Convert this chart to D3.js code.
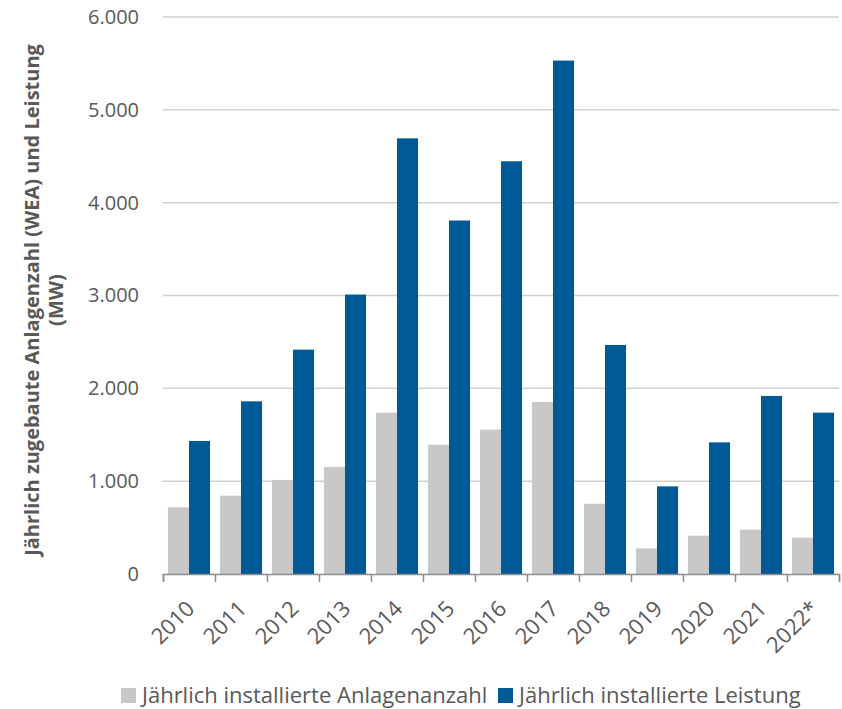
<!DOCTYPE html>
<html>
<head>
<meta charset="utf-8">
<script src="https://cdn.jsdelivr.net/npm/d3@7"></script>
<style>
  body { margin: 0; background: #fff; }
  text { font-family: "Open Sans", "Noto Sans", sans-serif; fill: #595959; }
</style>
</head>
<body>
<svg id="chart" width="842" height="709"></svg>
<script>
// Jahre / Kategorien
var years = ["2010", "2011", "2012", "2013", "2014", "2015", "2016", "2017", "2018", "2019", "2020", "2021", "2022*"];
// Jährlich installierte Anlagenanzahl (WEA)
var anlagen = [718, 844, 1013, 1153, 1738, 1393, 1555, 1853, 757, 276, 413, 477, 391];
// Jährlich installierte Leistung (MW)
var leistung = [1433, 1860, 2417, 3010, 4693, 3808, 4446, 5531, 2467, 944, 1418, 1918, 1738];
var yTicks = [0, 1000, 2000, 3000, 4000, 5000, 6000];
var seriesNames = ["Jährlich installierte Anlagenanzahl", "Jährlich installierte Leistung"];
var colors = ["#c8c8c8", "#005a96"];

var svg = d3.select("#chart"),
    margin = {top: 17, right: 3, bottom: 135, left: 163},
    width = +svg.attr("width") - margin.left - margin.right,
    height = +svg.attr("height") - margin.top - margin.bottom;

var g = svg.append("g").attr("transform", "translate(" + margin.left + "," + margin.top + ")");

var x0 = d3.scaleBand().domain(years).range([0, width]).paddingInner(0.19).paddingOuter(0.095);
var x1 = d3.scaleBand().domain([0, 1]).range([0, x0.bandwidth()]);
var y = d3.scaleLinear().domain([0, 6000]).range([height, 0]);

var fmt = function(d) { return d3.format(",")(d).replace(/,/g, "."); };

// gridlines
g.append("g")
    .selectAll("line")
    .data(yTicks.slice(1))
    .enter().append("line")
      .attr("x1", 0)
      .attr("x2", width)
      .attr("y1", function(d) { return y(d); })
      .attr("y2", function(d) { return y(d); })
      .attr("stroke", "#d0d0d0")
      .attr("stroke-width", 1.5);

// y axis labels
var yAxis = g.append("g")
    .call(d3.axisLeft(y).tickValues(yTicks).tickFormat(fmt).tickSize(0).tickPadding(24));
yAxis.select(".domain").remove();
yAxis.selectAll("text")
    .attr("font-size", "20px")
    .attr("fill", "#595959")
    .style("font-family", "'Open Sans', sans-serif");

// bars
var series = [anlagen, leistung];
var groups = g.append("g")
  .selectAll("g")
  .data(years)
  .enter().append("g")
    .attr("transform", function(d) { return "translate(" + x0(d) + ",0)"; });

groups.selectAll("rect")
  .data(function(d, i) { return series.map(function(s, k) { return {k: k, v: s[i]}; }); })
  .enter().append("rect")
    .attr("x", function(d) { return x1(d.k); })
    .attr("width", x1.bandwidth())
    .attr("y", function(d) { return y(d.v); })
    .attr("height", function(d) { return height - y(d.v); })
    .attr("fill", function(d) { return colors[d.k]; });

// x axis
var xAxis = d3.axisBottom(d3.scaleLinear().domain([0, years.length]).range([0, width]))
    .tickValues(d3.range(years.length + 1))
    .tickSize(8)
    .tickFormat("");
var xa = g.append("g")
    .attr("transform", "translate(0," + height + ")")
    .call(xAxis);
xa.select(".domain").attr("stroke", "#8c8c8c").attr("stroke-width", 1.5);
xa.selectAll(".tick line").attr("stroke", "#8c8c8c").attr("stroke-width", 1.5);

g.append("g")
  .selectAll("text")
  .data(years)
  .enter().append("text")
    .attr("transform", function(d) {
      return "translate(" + (x0(d) + x0.bandwidth() / 2 + 7) + "," + (height + 36) + ") rotate(-45)";
    })
    .attr("text-anchor", "end")
    .attr("font-size", "22px")
    .text(function(d) { return d; });

// y axis title
var title = svg.append("text")
    .attr("transform", "translate(39,300) rotate(-90)")
    .attr("text-anchor", "middle")
    .attr("font-size", "20px")
    .attr("font-weight", "bold");
title.append("tspan").attr("x", 0).attr("y", 0).text("Jährlich zugebaute Anlagenzahl (WEA) und Leistung");
title.append("tspan").attr("x", 0).attr("dy", 24).text("(MW)");

// legend
var legend = svg.append("g").attr("transform", "translate(121,695.5)");
var lx = [0, 377];
seriesNames.forEach(function(name, i) {
  legend.append("rect")
      .attr("x", lx[i])
      .attr("y", -7.5)
      .attr("width", 15)
      .attr("height", 15)
      .attr("fill", colors[i]);
  legend.append("text")
      .attr("x", lx[i] + 21)
      .attr("y", 0)
      .attr("dy", "0.35em")
      .attr("font-size", "22px")
      .text(name);
});
</script>
</body>
</html>
